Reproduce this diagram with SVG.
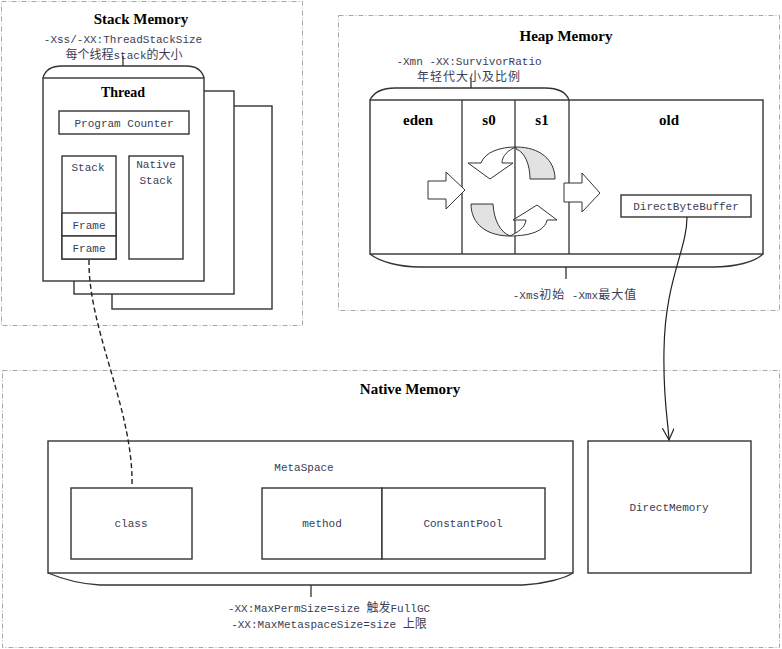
<svg xmlns="http://www.w3.org/2000/svg" width="782" height="649" viewBox="0 0 782 649">
<defs>
<style>
.panel{fill:none;stroke:#a8a8a8;stroke-width:1;stroke-dasharray:5 2 1 2}
.box{fill:#fff;stroke:#333;stroke-width:1.4}
.ln{fill:none;stroke:#333;stroke-width:1.3}
.t{font-family:"Liberation Mono","Noto Sans CJK SC",monospace;font-size:11px;fill:#3a3d55;text-anchor:middle}
.cj{font-family:"Noto Sans CJK SC",sans-serif;font-size:12px}
.b{font-family:"Liberation Serif","Noto Sans CJK SC",serif;font-weight:bold;font-size:15px;fill:#000;text-anchor:middle}
.gray{fill:#e2e2e2;stroke:#333;stroke-width:1}
.wa{fill:#fff;stroke:#333;stroke-width:1}
</style>
<marker id="open" markerWidth="14" markerHeight="14" refX="12" refY="6" orient="auto" markerUnits="userSpaceOnUse">
<path d="M0 0 L12 6 L0 12" fill="none" stroke="#222" stroke-width="1.2"/>
</marker>
</defs>
<rect width="782" height="649" fill="#fff"/>

<g id="stack-memory">
<rect class="panel" x="1.5" y="1.5" width="301" height="324"/>
<text class="b" x="141" y="24">Stack Memory</text>
<text class="t" x="123" y="43">-Xss/-XX:ThreadStackSize</text>
<text class="t" x="124" y="59"><tspan class="cj">每个线程</tspan>stack<tspan class="cj">的大小</tspan></text>
<line class="ln" x1="123" y1="56" x2="123" y2="66"/>
</g>

<g id="thread3"><rect class="box" x="112" y="106" width="160" height="203"/></g>
<g id="thread2"><rect class="box" x="74" y="91" width="160" height="203"/></g>
<g id="thread">
<path class="ln" d="M43 78 C45 70 52 66 62 66 L186 66 C196 66 202 70 204 78"/>
<rect class="box" x="43" y="78" width="161" height="203"/>
<text class="b" x="123" y="97" style="font-size:14px">Thread</text>
</g>
<g id="program-counter">
<rect class="box" x="59" y="111" width="130" height="23"/>
<text class="t" x="124" y="127">Program Counter</text>
</g>
<g id="stack">
<rect class="box" x="62" y="156" width="54" height="103"/>
<text class="t" x="88" y="171">Stack</text>
</g>
<g id="frame1">
<rect class="box" x="62" y="213" width="54" height="23"/>
<text class="t" x="89" y="229">Frame</text>
</g>
<g id="frame2">
<rect class="box" x="62" y="236" width="54" height="23"/>
<text class="t" x="89" y="252">Frame</text>
</g>
<g id="native-stack">
<rect class="box" x="129" y="156" width="54" height="103"/>
<text class="t" x="156" y="168">Native</text>
<text class="t" x="156" y="184">Stack</text>
</g>

<g id="heap-memory">
<rect class="panel" x="338.5" y="15.5" width="441" height="295"/>
<text class="b" x="566" y="41">Heap Memory</text>
<text class="t" x="469" y="65">-Xmn -XX:SurvivorRatio</text>
<text class="t" x="469" y="81"><tspan class="cj" letter-spacing="1">年轻代大小及比例</tspan></text>
<line class="ln" x1="471" y1="78" x2="471" y2="88"/>
<path class="ln" d="M370 100 C374 92 382 88 395 88 L545 88 C558 88 566 92 569 100"/>
<rect class="box" x="370" y="100" width="393" height="154"/>
<line class="ln" x1="462" y1="100" x2="462" y2="254"/>
<line class="ln" x1="515" y1="100" x2="515" y2="254"/>
<line class="ln" x1="569" y1="100" x2="569" y2="254"/>
<path class="ln" d="M370 254 C380 262 400 267 420 267 L713 267 C735 267 755 262 763 254"/>
<line class="ln" x1="566" y1="267" x2="566" y2="279"/>
<text class="t" x="575" y="299">-Xms<tspan class="cj" letter-spacing="1">初始</tspan> -Xmx<tspan class="cj" letter-spacing="1">最大值</tspan></text>
</g>
<g id="eden"><text class="b" x="418" y="125">eden</text></g>
<g id="s0"><text class="b" x="489" y="125">s0</text></g>
<g id="s1"><text class="b" x="542" y="125">s1</text></g>
<g id="old"><text class="b" x="669" y="125">old</text></g>
<g id="heap-arrows">
<path class="wa" d="M428 181 L446 181 L446 172 L465 190 L446 209 L446 199 L428 199 Z"/>
<path class="wa" d="M564 183 L582 183 L582 173 L600 193 L582 212 L582 202 L564 202 Z"/>
<path class="gray" d="M516 147 C540 147 555 160 555 179 L530 179 C530 165 525 152 516 149 Z"/>
<path class="wa" d="M490 179 L468 163 L481 163 C485 152 500 147 516 147 C508 150 502 156 502 163 L513 163 Z"/>
<path class="gray" d="M471 204 L493 204 C494 220 500 232 510 236 C488 236 471 225 471 204 Z"/>
<path class="wa" d="M537 205 L557 220 L547 220 C545 231 530 236 510 236 C518 232 525 228 526 220 L513 220 Z"/>
</g>
<g id="direct-byte-buffer">
<rect class="box" x="621" y="195" width="130" height="22"/>
<text class="t" x="686" y="210">DirectByteBuffer</text>
</g>

<g id="native-memory">
<rect class="panel" x="2.5" y="370.5" width="777" height="277"/>
<text class="b" x="410" y="394">Native Memory</text>
</g>
<g id="metaspace">
<rect class="box" x="48" y="441" width="525" height="132"/>
<path class="ln" d="M48 573 C60 578 80 584 100 585 L523 585 C545 584 565 578 573 573"/>
<line class="ln" x1="311" y1="585" x2="311" y2="597"/>
<text class="t" x="304" y="471">MetaSpace</text>
<text class="t" x="329" y="612">-XX:MaxPermSize=size <tspan class="cj">触发</tspan>FullGC</text>
<text class="t" x="329" y="628">-XX:MaxMetaspaceSize=size <tspan class="cj">上限</tspan></text>
</g>
<g id="class">
<rect class="box" x="71" y="488" width="121" height="71"/>
<text class="t" x="131" y="527">class</text>
</g>
<g id="method">
<rect class="box" x="262" y="488" width="120" height="71"/>
<text class="t" x="322" y="527">method</text>
</g>
<g id="constant-pool">
<rect class="box" x="382" y="488" width="163" height="71"/>
<text class="t" x="463" y="527">ConstantPool</text>
</g>
<g id="direct-memory">
<rect class="box" x="588" y="441" width="163" height="132"/>
<text class="t" x="669" y="511">DirectMemory</text>
</g>

<g id="connectors">
<path d="M89 260 C88 330 134 410 132 487" fill="none" stroke="#222" stroke-width="1.4" stroke-dasharray="5 3"/>
<path d="M687 217 C687 250 665 280 664 350 C663 400 668 420 669 440" fill="none" stroke="#222" stroke-width="1.2" marker-end="url(#open)"/>
</g>
</svg>
